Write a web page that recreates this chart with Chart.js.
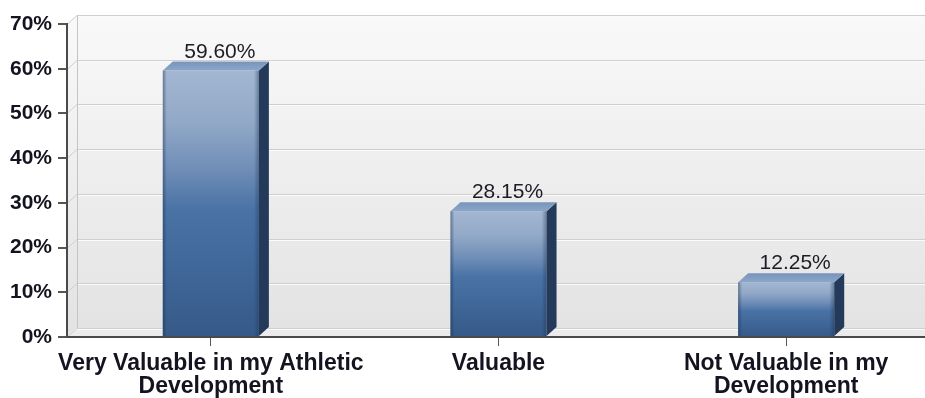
<!DOCTYPE html>
<html lang="en">
<head>
<meta charset="UTF-8">
<title>Value in Athletic Development</title>
<style>
  html, body { margin: 0; padding: 0; background: #fff; overflow: hidden; }
  .wrap { width: 930px; height: 398px; }
</style>
</head>
<body>
<div class="wrap"><canvas id="chart"></canvas></div>

<script src="https://cdn.jsdelivr.net/npm/chart.js"></script>
<script>
  const categories = [
    ['Very Valuable in my Athletic', 'Development'],
    'Valuable',
    ['Not Valuable in my', 'Development']
  ];
  const shares = [59.60, 28.15, 12.25];
  const axisMax = 70;
  const axisStep = 10;

  // depth of the fake 3d box (px to the right / up)
  const DX = 10, DY = 9;
  const FONT = '"Liberation Sans", Arial, sans-serif';

  function frontFill(c) {
    const chart = c.chart, ys = chart.scales.y;
    if (!ys || !c.parsed) return '#4a72a3';
    const top = ys.getPixelForValue(c.parsed.y);
    const bottom = ys.getPixelForValue(0);
    if (!Number.isFinite(top) || !Number.isFinite(bottom) || top === bottom) return '#4a72a3';
    const g = chart.ctx.createLinearGradient(0, top, 0, bottom);
    g.addColorStop(0, '#a3b7d1');
    g.addColorStop(0.2, '#91a8c7');
    g.addColorStop(0.38, '#6d8cb6');
    g.addColorStop(0.52, '#4a73a5');
    g.addColorStop(0.78, '#3e6596');
    g.addColorStop(1, '#365a88');
    return g;
  }

  // back wall, left wall, floor and the gridlines that sit on the wall
  const walls = {
    id: 'walls',
    beforeDraw(chart) {
      const { ctx, chartArea: a } = chart;
      const ys = chart.scales.y;
      ctx.save();

      const wg = ctx.createLinearGradient(0, a.top - DY, 0, a.bottom - DY);
      wg.addColorStop(0, '#f9f9f9');
      wg.addColorStop(1, '#e3e3e3');
      ctx.fillStyle = wg;
      ctx.fillRect(a.left + DX, a.top - DY, a.right - a.left, a.bottom - a.top);

      ctx.beginPath();
      ctx.moveTo(a.left, a.top);
      ctx.lineTo(a.left + DX, a.top - DY);
      ctx.lineTo(a.left + DX, a.bottom - DY);
      ctx.lineTo(a.left, a.bottom);
      ctx.closePath();
      ctx.fillStyle = wg;
      ctx.fill();

      ctx.beginPath();
      ctx.moveTo(a.left, a.bottom);
      ctx.lineTo(a.left + DX, a.bottom - DY);
      ctx.lineTo(a.right + DX, a.bottom - DY);
      ctx.lineTo(a.right, a.bottom);
      ctx.closePath();
      ctx.fillStyle = '#ebebeb';
      ctx.fill();

      ctx.lineWidth = 1;
      ys.ticks.forEach(t => {
        const py = Math.round(ys.getPixelForValue(t.value)) + 0.5;
        ctx.strokeStyle = '#cfcfcf';
        ctx.beginPath();
        ctx.moveTo(a.left, py);
        ctx.lineTo(a.left + DX, py - DY);
        ctx.lineTo(a.right + DX, py - DY);
        ctx.stroke();
        ctx.strokeStyle = '#fbfbfb';
        ctx.beginPath();
        ctx.moveTo(a.left + DX, py - DY + 1);
        ctx.lineTo(a.right + DX, py - DY + 1);
        ctx.stroke();
      });

      ctx.strokeStyle = '#c4c4c4';
      ctx.beginPath();
      ctx.moveTo(a.left + DX + 0.5, a.top - DY);
      ctx.lineTo(a.left + DX + 0.5, a.bottom - DY);
      ctx.stroke();
      ctx.restore();
    }
  };

  // side + top faces of each bar, edge shading and the value above it
  const boxes = {
    id: 'boxes',
    afterDatasetsDraw(chart) {
      const ctx = chart.ctx;
      const meta = chart.getDatasetMeta(0);
      ctx.save();
      meta.data.forEach((bar, i) => {
        const { x, y, width, base } = bar.getProps(['x', 'y', 'width', 'base'], true);
        const l = x - width / 2, r = x + width / 2;

        ctx.beginPath();
        ctx.moveTo(r, y);
        ctx.lineTo(r + DX, y - DY);
        ctx.lineTo(r + DX, base - DY);
        ctx.lineTo(r, base);
        ctx.closePath();
        ctx.fillStyle = '#233a5a';
        ctx.fill();

        const tg = ctx.createLinearGradient(0, y - DY, 0, y);
        tg.addColorStop(0, '#7894bb');
        tg.addColorStop(1, '#8ba6c9');
        ctx.beginPath();
        ctx.moveTo(l, y);
        ctx.lineTo(l + DX, y - DY);
        ctx.lineTo(r + DX, y - DY);
        ctx.lineTo(r, y);
        ctx.closePath();
        ctx.fillStyle = tg;
        ctx.fill();

        // soft bevel on the front face edges
        const lg = ctx.createLinearGradient(l, 0, l + 4, 0);
        lg.addColorStop(0, 'rgba(25,45,75,0.45)');
        lg.addColorStop(1, 'rgba(25,45,75,0)');
        ctx.fillStyle = lg;
        ctx.fillRect(l, y, 4, base - y);
        const rg = ctx.createLinearGradient(r - 5, 0, r, 0);
        rg.addColorStop(0, 'rgba(25,45,75,0)');
        rg.addColorStop(1, 'rgba(25,45,75,0.4)');
        ctx.fillStyle = rg;
        ctx.fillRect(r - 5, y, 5, base - y);

        ctx.fillStyle = '#1c1c24';
        ctx.font = '21px ' + FONT;
        ctx.textAlign = 'center';
        ctx.textBaseline = 'alphabetic';
        ctx.fillText(shares[i].toFixed(2) + '%', x + 9, y - DY - 4);
      });
      ctx.restore();
    }
  };

  new Chart(document.getElementById('chart'), {
    type: 'bar',
    data: {
      labels: categories,
      datasets: [{
        data: shares,
        backgroundColor: frontFill,
        borderWidth: 0,
        categoryPercentage: 1,
        barPercentage: 0.334
      }]
    },
    options: {
      responsive: true,
      maintainAspectRatio: false,
      animation: false,
      layout: { padding: { top: 24, left: 0, right: 0, bottom: 0 } },
      plugins: { legend: { display: false }, tooltip: { enabled: false } },
      scales: {
        x: {
          afterFit: s => { s.height = 61; },
          grid: { offset: false, drawOnChartArea: false, drawTicks: true, tickLength: 9, color: '#555', lineWidth: 1 },
          border: { display: true, color: '#4a4a4a', width: 2 },
          ticks: {
            color: '#141420',
            padding: 6,
            maxRotation: 0,
            autoSkip: false,
            font: { family: FONT, size: 23, weight: 'bold', lineHeight: 1.0 }
          }
        },
        y: {
          min: 0,
          max: axisMax,
          afterFit: s => { s.width = 67; },
          grid: { drawOnChartArea: false, drawTicks: true, tickLength: 9, color: '#555', lineWidth: 2 },
          border: { display: true, color: '#4a4a4a', width: 2 },
          ticks: {
            stepSize: axisStep,
            color: '#141420',
            padding: 6,
            callback: v => v + '%',
            font: { family: FONT, size: 21, weight: 'bold' }
          }
        }
      }
    },
    plugins: [walls, boxes]
  });
</script>
</body>
</html>
